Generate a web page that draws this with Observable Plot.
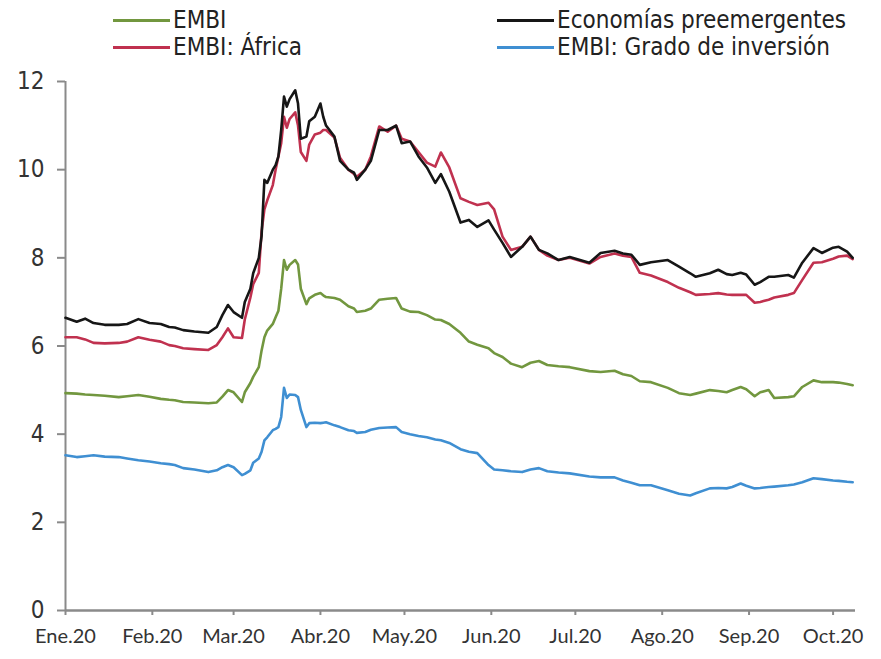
<!DOCTYPE html>
<html>
<head>
<meta charset="utf-8">
<script src="https://cdn.jsdelivr.net/npm/d3@7"></script>
<script src="https://cdn.jsdelivr.net/npm/@observablehq/plot@0.6"></script>
<style>
  html, body { margin: 0; padding: 0; background: #fff; }
  #wrap { width: 881px; height: 659px; position: relative; overflow: hidden; }
  #legend { position: relative; width: 881px; height: 60px; font-family: "Liberation Sans Narrow", "Arial Narrow", "DejaVu Sans Condensed", sans-serif; font-size: 24px; color: #222; }
  .item { position: absolute; display: flex; align-items: center; white-space: nowrap; }
  .swatch { width: 57px; height: 3px; margin-right: 3px; }
</style>
</head>
<body>
<div id="wrap">
  <div id="legend"></div>
  <div id="chart"></div>
</div>
<script>
// ---- data ----
const seriesNames = ["EMBI", "EMBI: África", "Economías preemergentes", "EMBI: Grado de inversión"];
const seriesColors = ["#72973f", "#c0314f", "#161616", "#3f8fd2"];

const dates = [
  "2020-01-01","2020-01-05","2020-01-08","2020-01-11","2020-01-15","2020-01-20","2020-01-23","2020-01-27","2020-01-31",
  "2020-02-04","2020-02-07","2020-02-09","2020-02-12","2020-02-16","2020-02-21","2020-02-24","2020-02-26","2020-02-28",
  "2020-03-01","2020-03-04","2020-03-05","2020-03-07","2020-03-08","2020-03-10","2020-03-11","2020-03-12","2020-03-13",
  "2020-03-15","2020-03-16","2020-03-17","2020-03-18","2020-03-19","2020-03-20","2020-03-21","2020-03-23","2020-03-24",
  "2020-03-25","2020-03-27","2020-03-28","2020-03-30","2020-04-01","2020-04-02","2020-04-03","2020-04-06","2020-04-08",
  "2020-04-11","2020-04-13","2020-04-14","2020-04-17","2020-04-19","2020-04-22","2020-04-25","2020-04-28","2020-04-30",
  "2020-05-03","2020-05-06","2020-05-09","2020-05-12","2020-05-14","2020-05-17","2020-05-21","2020-05-24","2020-05-27",
  "2020-05-31","2020-06-02","2020-06-05","2020-06-08","2020-06-12","2020-06-15","2020-06-18","2020-06-21","2020-06-25",
  "2020-06-29","2020-07-06","2020-07-10","2020-07-15","2020-07-18","2020-07-21","2020-07-24","2020-07-28","2020-08-03",
  "2020-08-07","2020-08-11","2020-08-13","2020-08-18","2020-08-21","2020-08-24","2020-08-26","2020-08-29","2020-08-31",
  "2020-09-03","2020-09-05","2020-09-08","2020-09-10","2020-09-15","2020-09-17","2020-09-20","2020-09-24","2020-09-27",
  "2020-10-01","2020-10-03","2020-10-06","2020-10-08"
];

const embi = [
  4.93,4.92,4.90,4.89,4.87,4.84,4.86,4.89,4.85,
  4.80,4.78,4.77,4.73,4.72,4.70,4.72,4.85,5.00,
  4.95,4.73,4.95,5.16,5.30,5.52,5.90,6.20,6.35,
  6.50,6.65,6.80,7.30,7.95,7.73,7.84,7.95,7.85,
  7.30,6.95,7.08,7.16,7.20,7.15,7.11,7.09,7.05,
  6.90,6.85,6.77,6.80,6.85,7.05,7.07,7.09,6.85,
  6.78,6.77,6.70,6.60,6.59,6.50,6.30,6.10,6.03,
  5.95,5.84,5.75,5.60,5.52,5.62,5.66,5.57,5.54,
  5.52,5.43,5.41,5.44,5.36,5.32,5.20,5.18,5.05,
  4.93,4.89,4.92,5.00,4.98,4.95,5.00,5.07,5.02,
  4.86,4.95,5.00,4.82,4.84,4.86,5.07,5.22,5.18,
  5.18,5.17,5.14,5.11
];

const africa = [
  6.20,6.20,6.15,6.07,6.06,6.07,6.10,6.20,6.14,
  6.10,6.02,6.00,5.95,5.93,5.91,6.02,6.20,6.40,
  6.20,6.18,6.60,7.10,7.40,7.66,8.60,9.10,9.30,
  9.65,10.00,10.30,10.60,11.20,10.95,11.15,11.30,11.00,
  10.40,10.20,10.57,10.80,10.84,10.90,10.90,10.73,10.27,
  10.00,9.90,9.84,10.00,10.30,10.98,10.86,11.00,10.70,
  10.64,10.40,10.16,10.07,10.39,10.05,9.35,9.27,9.20,
  9.25,9.10,8.48,8.18,8.25,8.48,8.18,8.05,7.95,
  8.00,7.87,8.02,8.10,8.05,8.02,7.66,7.60,7.45,
  7.32,7.22,7.16,7.18,7.20,7.17,7.16,7.16,7.16,
  6.98,7.00,7.05,7.10,7.16,7.20,7.50,7.89,7.90,
  7.98,8.03,8.05,7.97
];

const preemergentes = [
  6.64,6.55,6.62,6.52,6.48,6.48,6.50,6.61,6.52,
  6.50,6.43,6.42,6.36,6.33,6.30,6.43,6.70,6.93,
  6.77,6.64,7.00,7.30,7.65,8.00,8.50,9.77,9.70,
  10.00,10.10,10.30,10.90,11.66,11.43,11.60,11.80,11.50,
  10.70,10.75,11.10,11.20,11.50,11.20,11.00,10.75,10.20,
  10.00,9.93,9.77,10.00,10.20,10.90,10.90,11.00,10.60,
  10.64,10.30,10.05,9.70,9.90,9.50,8.80,8.86,8.70,
  8.85,8.64,8.34,8.02,8.25,8.48,8.18,8.10,7.95,
  8.02,7.89,8.11,8.16,8.10,8.07,7.84,7.90,7.95,
  7.80,7.65,7.57,7.65,7.73,7.63,7.61,7.66,7.62,
  7.39,7.45,7.57,7.57,7.61,7.55,7.89,8.22,8.11,
  8.23,8.25,8.14,8.00
];

const gradoInversion = [
  3.52,3.48,3.50,3.52,3.49,3.48,3.45,3.41,3.38,
  3.34,3.32,3.30,3.23,3.20,3.14,3.18,3.25,3.30,
  3.25,3.07,3.10,3.18,3.35,3.45,3.60,3.86,3.93,
  4.09,4.12,4.16,4.39,5.05,4.82,4.90,4.89,4.84,
  4.55,4.16,4.25,4.26,4.25,4.26,4.27,4.20,4.16,
  4.09,4.07,4.03,4.05,4.10,4.14,4.15,4.16,4.05,
  4.00,3.96,3.93,3.88,3.86,3.80,3.66,3.60,3.57,
  3.30,3.20,3.18,3.16,3.14,3.20,3.23,3.16,3.13,
  3.11,3.04,3.02,3.02,2.95,2.90,2.84,2.84,2.73,
  2.65,2.61,2.66,2.77,2.78,2.77,2.80,2.88,2.83,
  2.77,2.78,2.80,2.81,2.84,2.86,2.91,3.00,2.98,
  2.95,2.94,2.92,2.91
];

const yTicks = [0, 2, 4, 6, 8, 10, 12];
const monthTicks = ["2020-01-01","2020-02-01","2020-03-01","2020-04-01","2020-05-01","2020-06-01","2020-07-01","2020-08-01","2020-09-01","2020-10-01"];
const monthLabels = ["Ene.20","Feb.20","Mar.20","Abr.20","May.20","Jun.20","Jul.20","Ago.20","Sep.20","Oct.20"];
const xDomain = ["2020-01-01", "2020-10-09"];

// ---- build table ----
const valueLists = [embi, africa, preemergentes, gradoInversion];
const rows = valueLists.flatMap((vals, s) =>
  vals.map((v, i) => ({ date: new Date(dates[i]), value: v, series: seriesNames[s] }))
);

// ---- legend (HTML, above the SVG) ----
const legendPos = [
  { left: 113, top: 20 },  // EMBI
  { left: 113, top: 47 },  // EMBI: África
  { left: 497, top: 20 },  // Economías preemergentes
  { left: 497, top: 47 }   // EMBI: Grado de inversión
];
const legend = document.getElementById("legend");
seriesNames.forEach((name, i) => {
  const item = document.createElement("div");
  item.className = "item";
  item.style.left = legendPos[i].left + "px";
  item.style.top = (legendPos[i].top - 15) + "px";
  item.style.height = "30px";
  const sw = document.createElement("span");
  sw.className = "swatch";
  sw.style.background = seriesColors[i];
  const tx = document.createElement("span");
  tx.textContent = name;
  item.appendChild(sw);
  item.appendChild(tx);
  legend.appendChild(item);
});

// ---- chart ----
const axisGray = "#8a8a8a";
const narrow = "'Liberation Sans Narrow', 'Arial Narrow', 'DejaVu Sans Condensed', sans-serif";
const monthIndex = new Map(monthTicks.map((d, i) => [new Date(d).getTime(), monthLabels[i]]));
const drawOrder = [0, 3, 1, 2];

const chart = Plot.plot({
  width: 881,
  height: 599,
  marginTop: 21,
  marginBottom: 49,
  marginLeft: 65,
  marginRight: 26,
  style: { background: "#fff", overflow: "visible" },
  x: { type: "utc", domain: xDomain.map(d => new Date(d)) },
  y: { domain: [0, 12] },
  marks: [
    Plot.axisY({
      ticks: yTicks, tickSize: 8, tickPadding: 13, label: null,
      stroke: axisGray, strokeWidth: 2, fill: "#333",
      fontSize: 24, fontFamily: narrow
    }),
    Plot.axisX({
      ticks: monthTicks.map(d => new Date(d)),
      tickFormat: d => monthIndex.get(d.getTime()),
      tickSize: 5, tickPadding: 13, label: null,
      stroke: axisGray, strokeWidth: 2, fill: "#333",
      fontSize: 20, fontFamily: "Lato, 'Open Sans', sans-serif"
    }),
    Plot.ruleX([new Date(xDomain[0])], { y1: 0, y2: 12, stroke: axisGray, strokeWidth: 2 }),
    Plot.ruleY([0], { stroke: axisGray, strokeWidth: 2.5 }),
    ...drawOrder.map(s =>
      Plot.line(rows.filter(r => r.series === seriesNames[s]), {
        x: "date", y: "value", stroke: seriesColors[s], strokeWidth: 2.6, strokeLinejoin: "round"
      })
    )
  ]
});
document.getElementById("chart").appendChild(chart);
</script>
</body>
</html>
